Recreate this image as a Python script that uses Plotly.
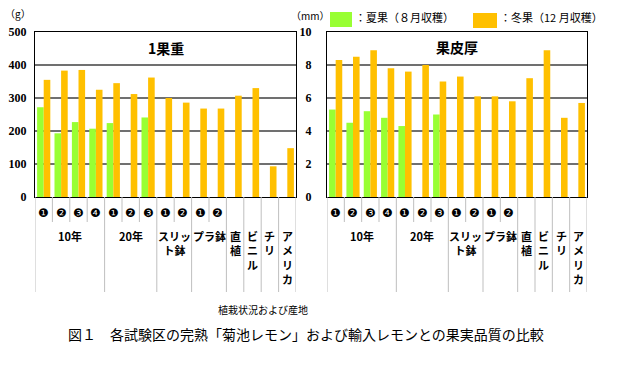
import plotly.graph_objects as go

W, H = 635, 369

categories = list(range(15))
sub_labels = ["❶", "❷", "❸", "❹", "❶", "❷", "❸", "❶", "❷", "❶", "❷", "", "", "", ""]
groups = [("10年", 0, 3), ("20年", 4, 6), ("スリッ<br>ト鉢", 7, 8), ("プラ鉢", 9, 10),
          ("直<br>植", 11, 11), ("ビ<br>ニ<br>ル", 12, 12), ("チ<br>リ", 13, 13), ("ア<br>メ<br>リ<br>カ", 14, 14)]

weight_summer = [272, 193, 227, 207, 224, None, 241, None, None, None, None, None, None, None, None]
weight_winter = [355, 383, 385, 325, 345, 312, 362, 300, 286, 268, 268, 307, 330, 93, 148]
peel_summer = [5.3, 4.5, 5.2, 4.8, 4.3, None, 5.0, None, None, None, None, None, None, None, None]
peel_winter = [8.3, 8.5, 8.9, 7.8, 7.6, 8.0, 7.0, 7.3, 6.1, 6.1, 5.8, 7.2, 8.9, 4.8, 5.7]

GREEN = "#99FF33"
ORANGE = "#FFC000"

def px_x(p):
    return p / W

def px_y(p):
    return 1 - p / H

fig = go.Figure()
fig.add_bar(x=categories, y=weight_summer, marker_color=GREEN, marker_line_width=0, xaxis="x", yaxis="y", showlegend=False)
fig.add_bar(x=categories, y=weight_winter, marker_color=ORANGE, marker_line_width=0, xaxis="x", yaxis="y", showlegend=False)
fig.add_bar(x=categories, y=peel_summer, marker_color=GREEN, marker_line_width=0, xaxis="x2", yaxis="y2", showlegend=False)
fig.add_bar(x=categories, y=peel_winter, marker_color=ORANGE, marker_line_width=0, xaxis="x2", yaxis="y2", showlegend=False)

ydom = [px_y(197), px_y(32)]
tickfont = dict(family="Liberation Serif", size=12, color="black", weight="bold")
common_x = dict(range=[-0.5, 14.5], showticklabels=False, showgrid=False, zeroline=False,
                showline=True, linecolor="black", linewidth=1, mirror=True, ticks="", automargin=False)
common_y = dict(showgrid=True, gridcolor="#707070", gridwidth=1.5, zeroline=False,
                showline=True, linecolor="black", linewidth=1, mirror=True, ticks="",
                tickfont=tickfont, automargin=False)

fig.update_layout(
    template="none",
    width=W, height=H, autosize=False,
    margin=dict(l=0, r=0, t=0, b=0, pad=0),
    paper_bgcolor="white", plot_bgcolor="white",
    barmode="group", bargap=0.24, bargroupgap=0,
    xaxis=dict(domain=[px_x(35), px_x(296)], anchor="y", **common_x),
    xaxis2=dict(domain=[px_x(327), px_x(587)], anchor="y2", **common_x),
    yaxis=dict(domain=ydom, anchor="x", range=[0, 500], dtick=100, ticklabelstandoff=5, **common_y),
    yaxis2=dict(domain=ydom, anchor="x2", range=[0, 10], dtick=2, ticklabelstandoff=12, **common_y),
    font=dict(family="Noto Sans CJK JP", color="black"),
)

shapes = []
annotations = []
sep_color = "#BFBFBF"
for xa in ["x", "x2"]:
    for b in [0.5, 1.5, 2.5, 4.5, 5.5, 7.5, 9.5]:
        shapes.append(dict(type="line", xref=xa, yref="paper", x0=b, x1=b,
                           y0=px_y(197), y1=px_y(222), line=dict(color=sep_color, width=1)))
    for b in [-0.5, 3.5, 6.5, 8.5, 10.5, 11.5, 12.5, 13.5, 14.5]:
        shapes.append(dict(type="line", xref=xa, yref="paper", x0=b, x1=b,
                           y0=px_y(197), y1=px_y(292), line=dict(color=sep_color, width=1)))
    for i, s in enumerate(sub_labels):
        if s:
            annotations.append(dict(text=s, xref=xa, yref="paper", x=i, y=px_y(213),
                                    showarrow=False, font=dict(family="DejaVu Sans", size=12, color="black"),
                                    xanchor="center", yanchor="middle"))
    for name, a, b in groups:
        annotations.append(dict(text="<b>" + name + "</b>", xref=xa, yref="paper", x=(a + b) / 2, y=px_y(226),
                                showarrow=False, font=dict(family="Noto Sans CJK JP", size=11, color="black"),
                                xanchor="center", yanchor="top", align="center"))

annotations.append(dict(text="<b>1果重</b>", xref="x domain", yref="y", x=0.5, y=452, showarrow=False,
                        font=dict(family="Noto Sans CJK JP", size=14, color="black")))
annotations.append(dict(text="<b>果皮厚</b>", xref="x2 domain", yref="y2", x=0.5, y=9.1, showarrow=False,
                        font=dict(family="Noto Sans CJK JP", size=14, color="black")))

annotations.append(dict(text="（g）", xref="paper", yref="paper", x=px_x(18), y=px_y(14), showarrow=False,
                        font=dict(size=10), xanchor="center", yanchor="middle"))
annotations.append(dict(text="（mm）", xref="paper", yref="paper", x=px_x(310), y=px_y(15), showarrow=False,
                        font=dict(size=10), xanchor="center", yanchor="middle"))

shapes.append(dict(type="rect", xref="paper", yref="paper", x0=px_x(330), x1=px_x(352),
                   y0=px_y(27), y1=px_y(12), fillcolor=GREEN, line=dict(width=0)))
shapes.append(dict(type="rect", xref="paper", yref="paper", x0=px_x(473), x1=px_x(497),
                   y0=px_y(28), y1=px_y(13), fillcolor=ORANGE, line=dict(width=0)))
annotations.append(dict(text="：夏果（８月収穫）", xref="paper", yref="paper", x=px_x(353), y=px_y(17),
                        showarrow=False, font=dict(size=11), xanchor="left", yanchor="middle"))
annotations.append(dict(text="：冬果（12 月収穫）", xref="paper", yref="paper", x=px_x(498), y=px_y(17),
                        showarrow=False, font=dict(size=11), xanchor="left", yanchor="middle"))

annotations.append(dict(text="植栽状況および産地", xref="paper", yref="paper", x=px_x(263), y=px_y(309),
                        showarrow=False, font=dict(size=10), xanchor="center", yanchor="middle"))
annotations.append(dict(text="図１　各試験区の完熟「菊池レモン」および輸入レモンとの果実品質の比較", xref="paper", yref="paper",
                        x=px_x(306), y=px_y(334), showarrow=False, font=dict(size=14),
                        xanchor="center", yanchor="middle"))

fig.update_layout(shapes=shapes, annotations=annotations)
fig.write_html("out.html", config={"displayModeBar": False},
               post_script="document.body.style.margin='0';document.body.style.padding='0';document.body.style.overflow='hidden';")
